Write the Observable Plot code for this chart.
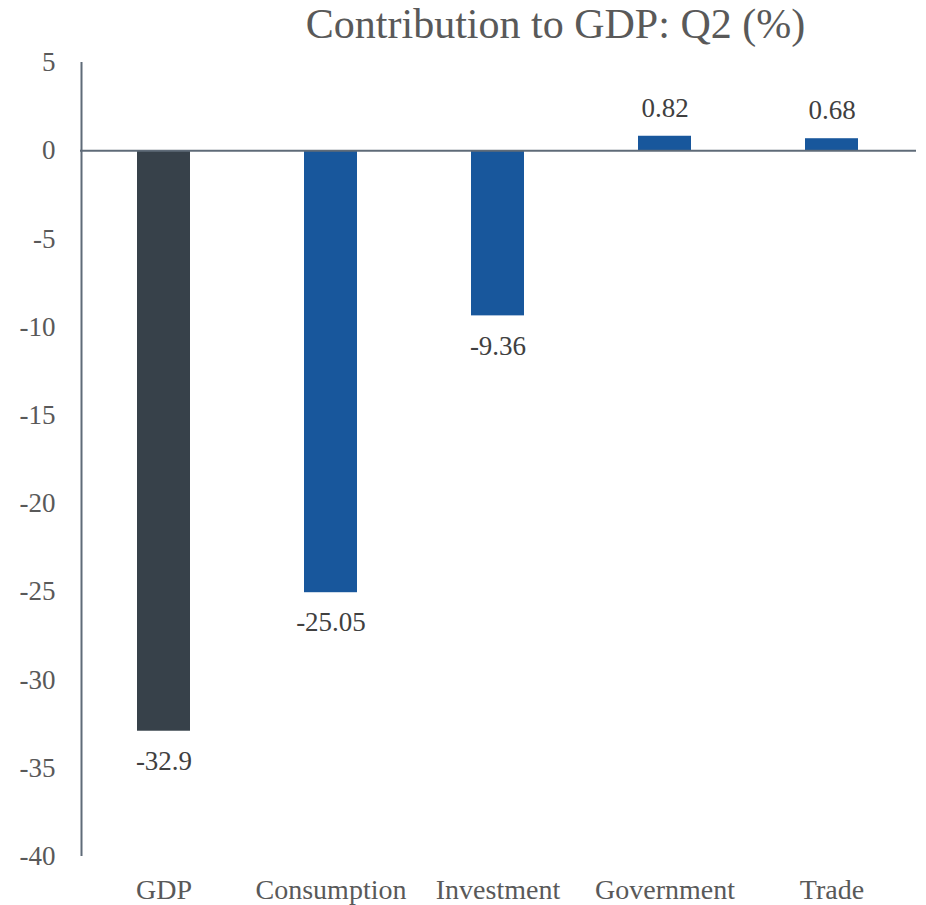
<!DOCTYPE html>
<html>
<head>
<meta charset="utf-8">
<script src="https://cdn.jsdelivr.net/npm/d3@7"></script>
<script src="https://cdn.jsdelivr.net/npm/@observablehq/plot@0.6"></script>
<style>
  html, body { margin: 0; padding: 0; background: #ffffff; }
  #chart { width: 926px; height: 905px; }
</style>
</head>
<body>
<div id="chart"></div>
<script>
const categories = ["GDP", "Consumption", "Investment", "Government", "Trade"];
const values = [-32.9, -25.05, -9.36, 0.82, 0.68];
const labels = ["-32.9", "-25.05", "-9.36", "0.82", "0.68"];
const yTicks = [5, 0, -5, -10, -15, -20, -25, -30, -35, -40];
const title = "Contribution to GDP: Q2 (%)";

const data = categories.map((c, i) => ({ category: c, value: values[i], label: labels[i] }));
const fontFamily = "'Liberation Serif', 'DejaVu Serif', serif";

const W = 926, ML = 80, MR = 10;
const centerX = ML + (W - ML - MR) / 2;

const chart = Plot.plot({
  width: W,
  height: 905,
  marginLeft: ML,
  marginRight: MR,
  marginTop: 62,
  marginBottom: 49,
  style: { fontFamily, fontSize: "27px", color: "#595959", background: "#ffffff" },
  x: { domain: categories, paddingInner: 0.68, paddingOuter: 0.34, label: null },
  y: { domain: [-40, 5], ticks: yTicks, label: null },
  color: { domain: categories, range: ["#37414a", "#18579c", "#18579c", "#18579c", "#18579c"] },
  marks: [
    Plot.axisY({ ticks: yTicks, tickFormat: d => String(d), tickSize: 0, tickPadding: 25, fontSize: 27, fill: "#595959", label: null }),
    Plot.axisX({ tickSize: 0, tickPadding: 23, fontSize: 28, fill: "#595959", label: null }),
    Plot.barY(data, { x: "category", y: "value", fill: "category" }),
    Plot.ruleY([0], { stroke: "#5f6b78", strokeWidth: 2 }),
    Plot.ruleX([0], { x: null, dx: ML - centerX + 1, y1: 5, y2: -40, stroke: "#5f6b78", strokeWidth: 2 }),
    Plot.text(data, {
      x: "category", y: "value", text: "label",
      fontSize: 27, fill: "#404040",
      filter: d => d.value >= 0, dy: -28
    }),
    Plot.text(data, {
      x: "category", y: "value", text: "label",
      fontSize: 27, fill: "#404040",
      filter: d => d.value < 0, dy: 30
    }),
    Plot.text([title], {
      frameAnchor: "top", text: d => d, dx: 57, dy: -54,
      fontSize: 42, fill: "#595959"
    })
  ]
});
document.getElementById("chart").appendChild(chart);
</script>
</body>
</html>
